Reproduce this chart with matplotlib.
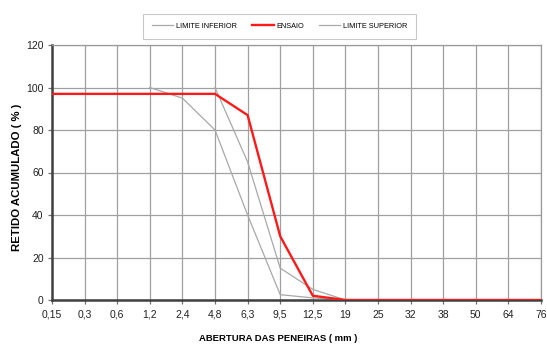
import numpy as np
import matplotlib.pyplot as plt

nan = np.nan
peneiras = ["0,15", "0,3", "0,6", "1,2", "2,4", "4,8", "6,3", "9,5",
            "12,5", "19", "25", "32", "38", "50", "64", "76"]
limite_inferior = [nan, nan, nan, 100, 95, 80, 40, 2.5, 1, 0, 0, 0, 0, 0, 0, 0]
ensaio = [97, 97, 97, 97, 97, 97, 87, 30, 2, 0, 0, 0, 0, 0, 0, 0]
limite_superior = [nan, nan, nan, nan, nan, 100, 65, 15, 5, 0, 0, 0, 0, 0, 0, 0]

plt.rcParams['font.family'] = ['Liberation Sans', 'DejaVu Sans']

x = list(range(len(peneiras)))

fig = plt.figure(figsize=(5.47, 3.45), dpi=100)
ax = fig.add_axes([52 / 547, 1 - 300 / 345, 489 / 547, 255 / 345])

ax.plot(x, limite_inferior, color="#a8a8a8", lw=0.9, label="LIMITE INFERIOR")
ax.plot(x, ensaio, color="#ff1a1a", lw=1.7, label="ENSAIO", zorder=5)
ax.plot(x, limite_superior, color="#a8a8a8", lw=0.9, label="LIMITE SUPERIOR")

ax.set_xlim(0, len(peneiras) - 1)
ax.set_ylim(0, 120)
ax.set_xticks(x)
ax.set_xticklabels(peneiras)
ax.set_yticks(range(0, 121, 20))
ax.grid(True, color="#a0a0a0", lw=0.9)
ax.set_axisbelow(True)
ax.tick_params(labelsize=7.5, length=3, width=0.9, color="#707070",
               labelcolor="#222222")
ax.tick_params(axis="x", pad=4)
ax.tick_params(axis="y", pad=3)

for side in ("top", "right"):
    ax.spines[side].set_color("#9a9a9a")
    ax.spines[side].set_linewidth(0.9)
for side in ("left", "bottom"):
    ax.spines[side].set_color("#404040")
    ax.spines[side].set_linewidth(1.8)

ax.set_xlabel("ABERTURA DAS PENEIRAS ( mm )", fontsize=6.8, fontweight="bold")
ax.xaxis.set_label_coords(0.463, -0.135)
ax.set_ylabel("RETIDO ACUMULADO ( % )", fontsize=8.2, fontweight="bold")
ax.yaxis.set_label_coords(-0.062, 0.48)

leg = ax.legend(loc="lower center", bbox_to_anchor=(0.466, 1.01), ncol=3, fontsize=5.3,
                frameon=True, fancybox=False, edgecolor="#bbbbbb", handlelength=2.9,
                columnspacing=2.0, borderpad=1.2, handletextpad=0.4)
leg.get_frame().set_linewidth(0.8)

fig.savefig("out.png", dpi=100)
